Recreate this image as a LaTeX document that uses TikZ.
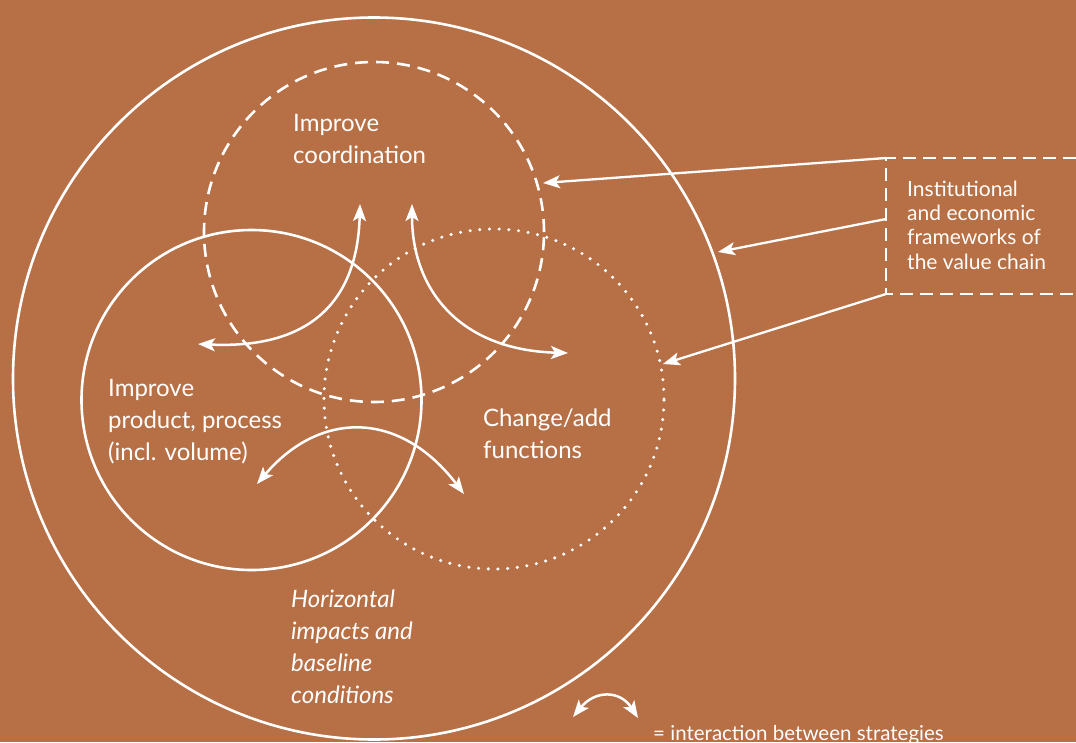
\documentclass[tikz,border=0pt]{standalone}
\usepackage{fontspec}
\setmainfont{Lato}
\usetikzlibrary{arrows.meta}
\definecolor{bg}{RGB}{183,111,69}
\begin{document}
\begin{tikzpicture}[x=1pt,y=-1pt,
  ring/.style={circle,draw=white,line width=2.6pt,inner sep=0pt,minimum size=340pt},
  biarr/.style={white,line width=2.5pt,{Stealth[length=17pt,width=13pt,inset=4pt]}-{Stealth[length=17pt,width=13pt,inset=4pt]}},
  onearr/.style={white,line width=2.3pt,-{Stealth[length=17pt,width=13pt,inset=4pt]}},
  lbl/.style={text=white,font=\fontsize{24}{32}\selectfont,align=left,anchor=base west,inner sep=0pt},
  boxlbl/.style={text=white,font=\fontsize{21}{24.3}\selectfont,align=left,anchor=base west,inner sep=0pt}]
\fill[bg] (0,0) rectangle (1076,742);
\useasboundingbox (0,0) rectangle (1076,742);
% circles
\node (big) [ring,minimum size=722pt] at (374,378.5) {};
\node (coord) [ring,dash pattern=on 13pt off 8pt] at (374,232) {};
\node (prod) [ring] at (251.5,400) {};
\node (func) [ring,line width=3.4pt,line cap=round,dash pattern=on 0pt off 9.7pt] at (494,399) {};
% box
\coordinate (bTR) at (1076,158);
\coordinate (b1) at (886,158);
\coordinate (b2) at (886,219);
\coordinate (b3) at (886,294);
\coordinate (bBR) at (1076,294);
\draw[white,line width=2.3pt,dash pattern=on 13pt off 7pt] (bTR) -- (b1) -- (b3) -- (bBR);
\node (boxtext) [boxlbl] at (907,269) {Institutional\\and economic\\frameworks of\\the value chain};
% framework arrows
\coordinate (t1) at (543,183);
\coordinate (t2) at (718,252);
\coordinate (t3) at (663,364);
\draw[onearr] (b1) -- (t1);
\draw[onearr] (b2) -- (t2);
\draw[onearr] (b3) -- (t3);
% interaction arrows
\coordinate (a1) at (198,344);
\coordinate (a2) at (360,204);
\coordinate (a3) at (412,204);
\coordinate (a4) at (568,353);
\coordinate (a5) at (257,484);
\coordinate (a6) at (464,494);
\draw[biarr] (a1) .. controls (330,350) and (358,280) .. (a2);
\draw[biarr] (a3) .. controls (412,290) and (460,350) .. (a4);
\draw[biarr] (a5) .. controls (320,410) and (400,410) .. (a6);
% labels
\node (coordtext) [lbl] at (293,163) {Improve\\coordination};
\node (prodtext) [lbl] at (108,460) {Improve\\product, process\\(incl. volume)};
\node (functext) [lbl] at (483,458) {Change/add\\functions};
\node (horiztext) [lbl,font=\fontsize{24}{32}\selectfont\itshape] at (291,703) {Horizontal\\impacts and\\baseline\\conditions};
% legend
\coordinate (l1) at (573,717);
\coordinate (l2) at (638,718);
\draw[biarr] (l1) .. controls (595,690) and (620,690) .. (l2);
\node (legendtext) [lbl,font=\fontsize{20.5}{24}\selectfont] at (653,740) {= interaction between strategies};
\end{tikzpicture}
\end{document}
